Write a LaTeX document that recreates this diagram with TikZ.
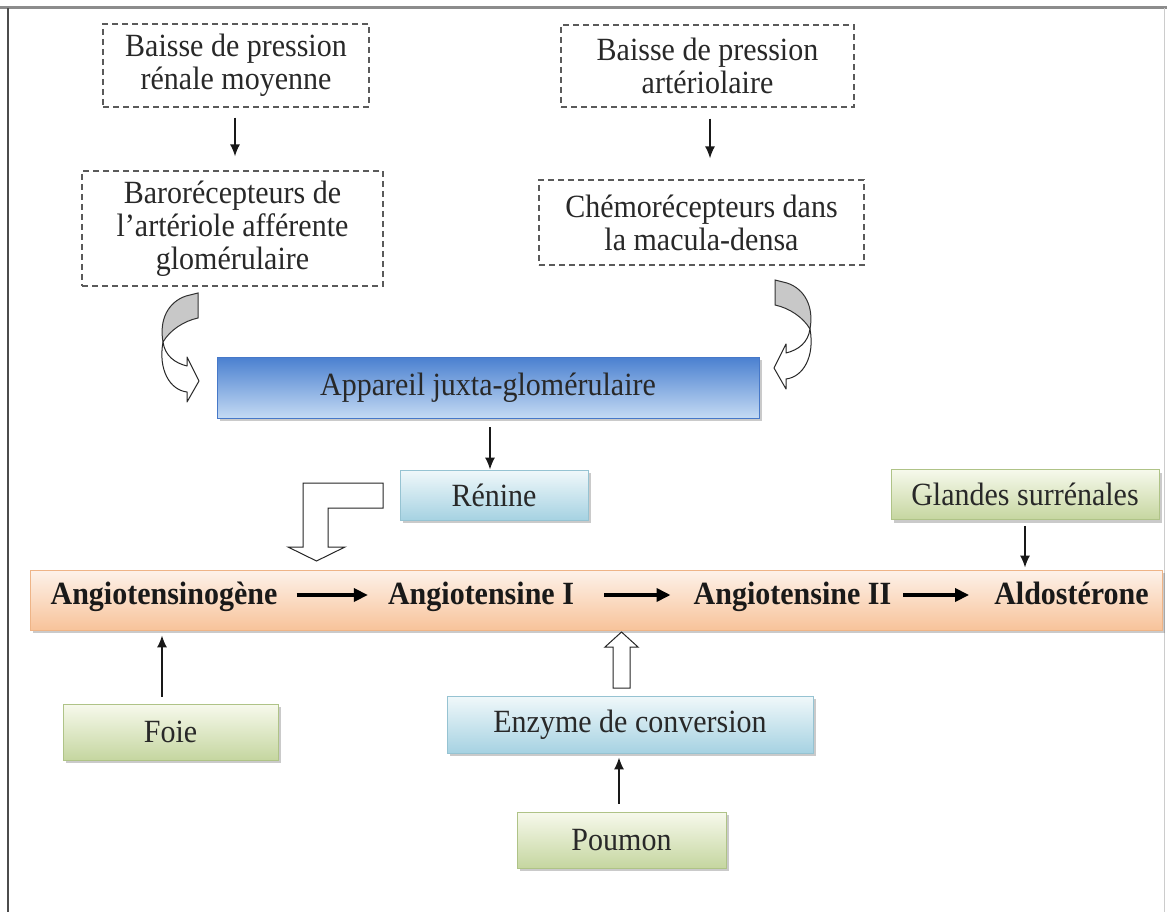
\documentclass[tikz,border=0pt]{standalone}
\usepackage{graphicx}
\usepackage{fontspec}
\setmainfont{Liberation Serif}
\usetikzlibrary{arrows.meta,shadows,calc}
\newcommand{\tl}[1]{\scalebox{1}[1.08]{#1}}
\definecolor{txtc}{RGB}{40,40,40}
\definecolor{dashc}{RGB}{90,90,90}
\definecolor{blueT}{RGB}{74,128,208}
\definecolor{blueB}{RGB}{196,218,243}
\definecolor{blueD}{RGB}{70,120,200}
\definecolor{cyanT}{RGB}{240,248,250}
\definecolor{cyanB}{RGB}{166,210,226}
\definecolor{cyanD}{RGB}{150,195,210}
\definecolor{greenT}{RGB}{247,249,236}
\definecolor{greenB}{RGB}{197,214,160}
\definecolor{greenD}{RGB}{175,195,135}
\definecolor{orT}{RGB}{253,242,234}
\definecolor{orB}{RGB}{248,195,154}
\definecolor{orD}{RGB}{238,180,135}
\definecolor{grayfill}{RGB}{200,200,200}
\tikzset{
  txt/.style={font=\fontsize{30}{33}\selectfont, text=txtc, align=center, inner sep=0pt},
  dbox/.style={txt, draw=dashc, dash pattern=on 6pt off 4pt, line width=1.2pt},
  shbox/.style={txt, drop shadow={shadow xshift=2.5pt, shadow yshift=-3pt, opacity=0.35, fill=black!60}},
  bluebox/.style={shbox, top color=blueT, bottom color=blueB, draw=blueD, line width=0.8pt},
  cyanbox/.style={shbox, top color=cyanT, bottom color=cyanB, draw=cyanD, line width=0.8pt},
  greenbox/.style={shbox, top color=greenT, bottom color=greenB, draw=greenD, line width=0.8pt},
  orbox/.style={shbox, top color=orT, bottom color=orB, draw=orD, line width=0.8pt},
  bold/.style={font=\fontsize{30}{33}\selectfont\bfseries, text=black!90, inner sep=0pt, anchor=base},
  thinarrow/.style={line width=1.5pt, black!90, -{Latex[length=12pt,width=10pt]}},
  thickarrow/.style={line width=4pt, black, -{Triangle[length=14pt,width=13pt]}},
  hollow/.style={draw=black!85, line width=1pt, fill=white, line join=miter},
  backpart/.style={draw=black!80, line width=1pt, fill=grayfill},
}
\begin{document}
\begin{tikzpicture}[x=1pt,y=-1pt]
\useasboundingbox (0,0) rectangle (1167,912);
% frame
\draw[black!45, line width=3pt] (0,8) -- (1167,8);
\draw[black!70, line width=1.5pt] (8,8) -- (8,912);
\draw[black!20, line width=1pt] (1164,8) -- (1164,912);

% dashed boxes
\node[dbox, minimum width=266pt, minimum height=83pt] (a1) at (236,65.5) {\tl{Baisse de pression}\\\tl{rénale moyenne}};
\node[dbox, minimum width=301pt, minimum height=115pt] (a2) at (232.5,228.5) {\tl{Barorécepteurs de}\\\tl{l’artériole afférente}\\\tl{glomérulaire}};
\node[dbox, minimum width=293pt, minimum height=82pt] (b1) at (707.5,66) {\tl{Baisse de pression}\\\tl{artériolaire}};
\node[dbox, minimum width=325pt, minimum height=85pt] (b2) at (701.5,222.5) {\tl{Chémorécepteurs dans}\\\tl{la macula-densa}};

\draw[thinarrow, shorten <=10pt, shorten >=14pt] ($(a1.south)+(-1,0)$) -- ($(a2.north)+(2.5,0)$);
\draw[thinarrow, shorten <=11pt, shorten >=21pt] ($(b1.south)+(2.5,0)$) -- ($(b2.north)+(8.5,0)$);

% gradient boxes
\node[bluebox, minimum width=542pt, minimum height=61pt] (app) at (488,387.5) {\tl{Appareil juxta-glomérulaire}};
\node[cyanbox, minimum width=188pt, minimum height=50pt] (ren) at (494,495) {\tl{Rénine}};
\node[greenbox, minimum width=268pt, minimum height=50pt] (gl) at (1025,494.5) {\tl{Glandes surrénales}};
\node[orbox, minimum width=1132pt, minimum height=60pt] (bar) at (596,600) {};
\node[greenbox, minimum width=215pt, minimum height=56pt] (foie) at (170.5,732) {\tl{Foie}};
\node[cyanbox, minimum width=366pt, minimum height=57pt] (enz) at (630,724.5) {\tl{Enzyme de conversion}};
\node[greenbox, minimum width=209pt, minimum height=56pt] (pou) at (621.5,840) {\tl{Poumon}};

% texts in the bar
\node[bold] (t1) at (164,604) {\tl{Angiotensinogène}};
\node[bold] (t2) at (481,604) {\tl{Angiotensine I}};
\node[bold] (t3) at (792.5,604) {\tl{Angiotensine II}};
\node[bold] (t4) at (1071.5,604) {\tl{Aldostérone}};
\draw[thickarrow, shorten <=19pt, shorten >=20pt] ($(t1.base east)+(0,-9)$) -- ($(t2.base west)+(0,-9)$);
\draw[thickarrow, shorten <=30pt, shorten >=23pt] ($(t2.base east)+(0,-9)$) -- ($(t3.base west)+(0,-9)$);
\draw[thickarrow, shorten <=12pt, shorten >=25pt] ($(t3.base east)+(0,-9)$) -- ($(t4.base west)+(0,-9)$);

% thin arrows
\draw[thinarrow, shorten <=9pt] ($(app.south)+(2,0)$) -- ($(ren.north)+(-4,0)$);
\draw[thinarrow, shorten <=6pt, shorten >=2pt] (gl.south) -- (gl.south |- bar.north);
\draw[thinarrow, shorten <=7pt, shorten >=5pt] ($(foie.north)+(-8.5,0)$) -- ($(foie.north |- bar.south)+(-8.5,0)$);
\draw[thinarrow, shorten <=8pt, shorten >=4pt] ($(pou.north)+(-2.5,0)$) -- ($(enz.south)+(-11,0)$);

% hollow arrows
\draw[hollow] (383,483) -- (303,483) -- (303,547) -- (288,547) -- (316.5,561) -- (345,547) -- (328,547) -- (328,508) -- (383,508) -- cycle;
\draw[hollow] (613,688) -- (613,647) -- (605,647) -- (621.5,632) -- (638,647) -- (630,647) -- (630,688) -- cycle;

% curved arrows
\begin{scope}
  \draw[backpart] (186,296) -- (198,293) -- (198,318) .. controls (184,321) and (170,330) .. (163,342) .. controls (159,320) and (168,302) .. cycle;
  \draw[hollow, line join=round] (163,342) .. controls (165,356) and (175,363) .. (187,366) -- (187,357) -- (199,381) -- (187,402) -- (187,392) .. controls (170,390) and (158,370) .. cycle;
\end{scope}
\begin{scope}[yshift=13pt, xshift=973pt, xscale=-1]
  \draw[backpart] (186,296) -- (198,293) -- (198,318) .. controls (184,321) and (170,330) .. (163,342) .. controls (159,320) and (168,302) .. cycle;
  \draw[hollow, line join=round] (163,342) .. controls (165,356) and (175,363) .. (187,366) -- (187,357) -- (199,381) -- (187,402) -- (187,392) .. controls (170,390) and (158,370) .. cycle;
\end{scope}
\end{tikzpicture}
\end{document}
